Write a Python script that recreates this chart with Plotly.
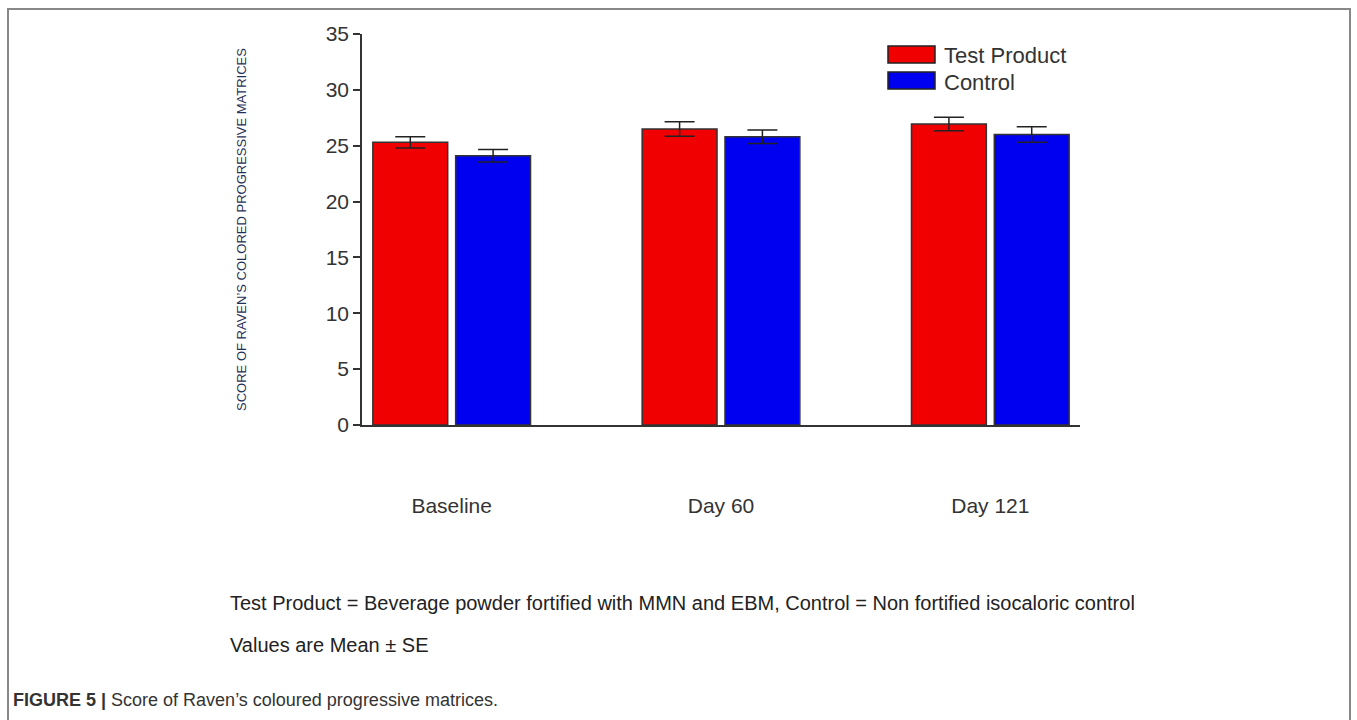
import plotly.graph_objects as go

# Data: mean scores and standard errors per visit
visits = ["Baseline", "Day 60", "Day 121"]
test_mean = [25.3, 26.5, 26.95]
test_se = [0.5, 0.65, 0.6]
control_mean = [24.1, 25.8, 26.0]
control_se = [0.55, 0.6, 0.7]
y_ticks = [0, 5, 10, 15, 20, 25, 30, 35]

W, H = 1357, 720
ML, MR, MT, MB = 362, 277, 34, 295
PW, PH = W - ML - MR, H - MT - MB

RED = "rgb(240,0,0)"
BLUE = "rgb(0,0,240)"
OUTLINE = "#333333"
FONT = "Liberation Sans, Arial, sans-serif"


def px(x):
    return (x - ML) / PW


def py(y):
    return (H - MB - y) / PH


err_style = dict(type="data", thickness=1.5, width=15, color="#222222")

fig = go.Figure()
fig.add_trace(go.Bar(
    name="Test Product", x=visits, y=test_mean,
    error_y=dict(array=test_se, **err_style),
    marker=dict(color=RED, line=dict(color=OUTLINE, width=1.5)),
    showlegend=False,
))
fig.add_trace(go.Bar(
    name="Control", x=visits, y=control_mean,
    error_y=dict(array=control_se, **err_style),
    marker=dict(color=BLUE, line=dict(color=OUTLINE, width=1.5)),
    showlegend=False,
))

shapes = []
annotations = []

# Legend swatches and labels
for i, (label, col) in enumerate([("Test Product", RED), ("Control", BLUE)]):
    top = 46 + i * 26
    shapes.append(dict(type="rect", xref="paper", yref="paper",
                       x0=px(888), x1=px(935), y0=py(top + 17), y1=py(top),
                       fillcolor=col, line=dict(color="#222222", width=1.5)))
    annotations.append(dict(text=label, xref="paper", yref="paper",
                            x=px(942), y=py(top + 10), xanchor="left", yanchor="middle",
                            showarrow=False, font=dict(size=22, color="#333333", family=FONT)))

# Outer figure frame
shapes.append(dict(type="rect", xref="paper", yref="paper",
                   x0=px(8), x1=px(1350), y0=py(740), y1=py(9),
                   fillcolor="rgba(0,0,0,0)", line=dict(color="#888888", width=2)))

# Footnotes and caption
annotations.append(dict(
    text="Test Product = Beverage powder fortified with MMN and EBM, Control = Non fortified isocaloric control",
    xref="paper", yref="paper", x=px(228), y=py(603), xanchor="left", yanchor="middle",
    showarrow=False, font=dict(size=20, color="#222222", family=FONT)))
annotations.append(dict(
    text="Values are Mean \u00b1 SE",
    xref="paper", yref="paper", x=px(228), y=py(645), xanchor="left", yanchor="middle",
    showarrow=False, font=dict(size=20, color="#222222", family=FONT)))
annotations.append(dict(
    text="<b>FIGURE 5 |</b> Score of Raven\u2019s coloured progressive matrices.",
    xref="paper", yref="paper", x=px(11), y=py(700), xanchor="left", yanchor="middle",
    showarrow=False, font=dict(size=18, color="#333333", family=FONT)))

fig.update_layout(
    width=W, height=H,
    margin=dict(l=ML, r=MR, t=MT, b=MB, autoexpand=False),
    paper_bgcolor="white", plot_bgcolor="white",
    barmode="group", bargap=0.385, bargroupgap=0.096,
    font=dict(family=FONT, color="#333333"),
    shapes=shapes, annotations=annotations,
    xaxis=dict(
        type="category", range=[-0.333, 2.333],
        showline=True, linecolor=OUTLINE, linewidth=1.5,
        ticks="", showgrid=False, zeroline=False,
        tickfont=dict(size=21, color="#333333"),
        ticklabelstandoff=61,
    ),
    yaxis=dict(
        range=[0, 35], tickvals=y_ticks,
        showline=True, linecolor=OUTLINE, linewidth=1.5,
        ticks="outside", ticklen=7, tickwidth=1.5, tickcolor=OUTLINE,
        showgrid=False, zeroline=False,
        tickfont=dict(size=21, color="#333333"),
        title=dict(text="SCORE OF RAVEN\u2019S COLORED PROGRESSIVE MATRICES",
                   font=dict(size=13, color="#1f2f55"), standoff=76),
    ),
)

fig.write_html("out.html")
